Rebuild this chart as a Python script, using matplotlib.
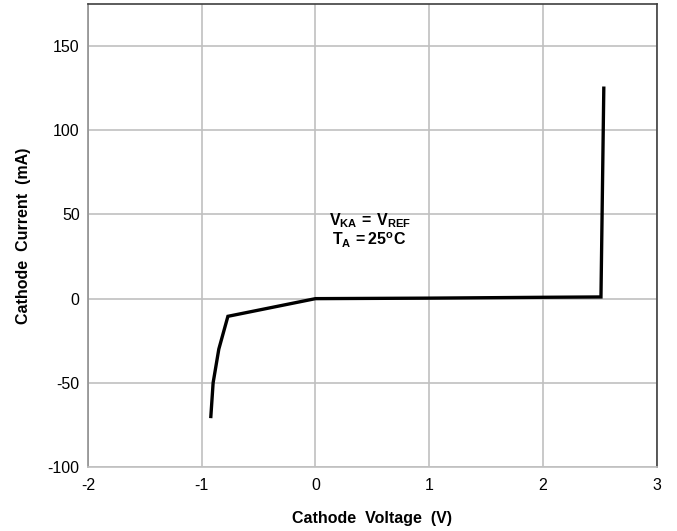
import numpy as np
import matplotlib
matplotlib.use('Agg')
import matplotlib.pyplot as plt

plt.rcParams['font.family'] = ['Liberation Sans', 'DejaVu Sans']
plt.rcParams['axes.unicode_minus'] = False
plt.rcParams['mathtext.fontset'] = 'custom'
plt.rcParams['mathtext.rm'] = 'Liberation Sans:bold'
plt.rcParams['mathtext.bf'] = 'Liberation Sans:bold'
plt.rcParams['mathtext.it'] = 'Liberation Sans:bold'

# cathode voltage (V) vs cathode current (mA)
volts = [-0.92, -0.90, -0.85, -0.77, 0.0, 1.0, 2.0, 2.51, 2.52, 2.535]
current = [-70, -50, -30, -10.5, 0.0, 0.3, 0.8, 1.0, 50, 125]

xticks = [-2, -1, 0, 1, 2, 3]
yticks = [-100, -50, 0, 50, 100, 150]

fig = plt.figure(figsize=(6.77, 5.31), dpi=100)
ax = fig.add_axes([0.130, 0.1205, 0.840, 0.872])

ax.plot(volts, current, color='black', lw=2.4, solid_joinstyle='miter')

ax.set_xlim(-2, 3)
ax.set_ylim(-100, 175)
ax.set_xticks(xticks)
ax.set_yticks(yticks)
ax.tick_params(length=0, labelsize=11.5, pad=6)
ax.tick_params(axis='x', pad=8)
ax.grid(True, color='#c0c0c0', lw=1.2)
ax.set_axisbelow(True)

ax.spines['top'].set_color('#404040')
ax.spines['right'].set_color('#404040')
ax.spines['left'].set_color('#909090')
ax.spines['bottom'].set_color('#c0c0c0')
for s in ax.spines.values():
    s.set_linewidth(1.2)

ax.set_xlabel('Cathode  Voltage  (V)', fontweight='bold', fontsize=11.5, labelpad=13)
ax.set_ylabel('Cathode  Current  (mA)', fontweight='bold', fontsize=11.5, labelpad=12)

ax.text(0.496, 0.532, r'$\mathbf{V_{KA}\,=\,V_{REF}}$', transform=ax.transAxes,
        ha='center', va='center', fontsize=11.5)
ax.text(0.494, 0.49, r'$\mathbf{T_{A}\,=25^{o}C}$', transform=ax.transAxes,
        ha='center', va='center', fontsize=11.5)

fig.savefig('out.png', dpi=100)
